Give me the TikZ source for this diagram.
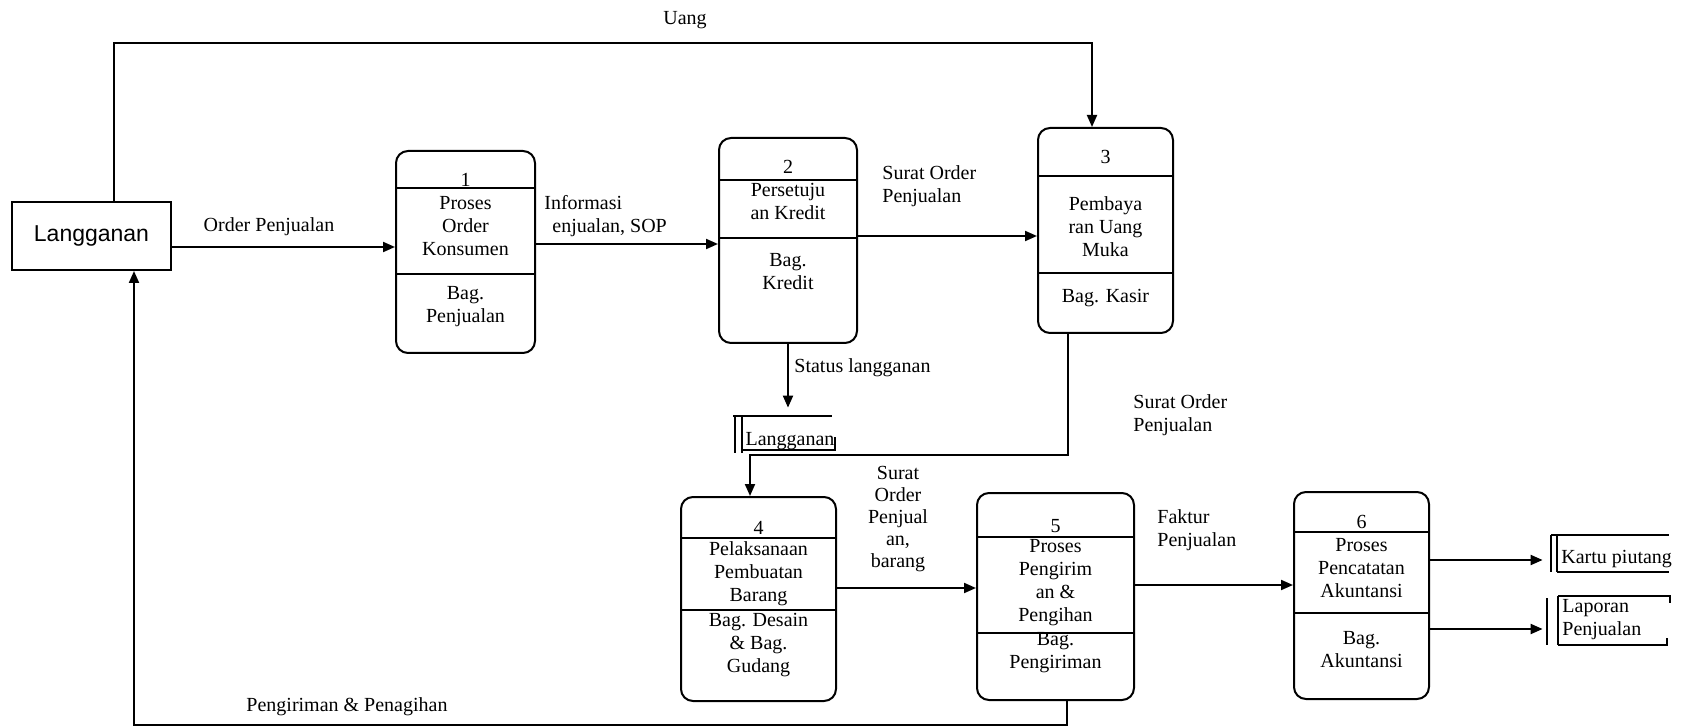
\documentclass[tikz,border=0pt]{standalone}
\usepackage{fontspec}
\setmainfont{Liberation Serif}
\newfontfamily\arialf{Liberation Sans}
\usetikzlibrary{arrows.meta,calc}
\begin{document}
\begin{tikzpicture}[x=0.5pt,y=-0.5pt,
  every node/.style={font=\fontsize{10}{11.5}\selectfont},
  line/.style={line width=1pt},
  arr/.style={line width=1pt,-{Triangle[length=6pt,width=5pt]}},
  pbox/.style={draw,line width=1pt,rounded corners=6pt,inner sep=0pt},
  txt/.style={align=center,inner sep=0pt},
  lbl/.style={align=left,inner sep=0pt,anchor=west},
  store/.style={inner sep=0pt},
]
\path[use as bounding box] (0,0) rectangle (1687,727);

% external entity
\node[draw,line width=1pt,minimum width=79.5pt,minimum height=34pt,inner sep=0pt,
      font=\arialf\fontsize{11.5}{13}\selectfont] (L) at (91.5,236) {Langganan};

% processes
\node[pbox,minimum width=69.5pt,minimum height=101pt] (P1) at (465.5,252) {};
\node[pbox,minimum width=69pt,minimum height=102.5pt] (P2) at (788,240.5) {};
\node[pbox,minimum width=67.5pt,minimum height=102.5pt] (P3) at (1105.5,230.5) {};
\node[pbox,minimum width=77.5pt,minimum height=102pt] (P4) at (758.5,599) {};
\node[pbox,minimum width=78.5pt,minimum height=103.5pt] (P5) at (1055.5,596.5) {};
\node[pbox,minimum width=67.5pt,minimum height=103.5pt] (P6) at (1361.5,595.5) {};

% dividers
\foreach \b/\ya/\yb in {P1/188/274, P2/180/238, P3/176/273, P4/538/610, P5/537/633, P6/532/613}{
  \draw[line] (\b.west |- 0,\ya) -- (\b.east |- 0,\ya);
  \draw[line] (\b.west |- 0,\yb) -- (\b.east |- 0,\yb);
}

% process texts
\node[txt] (n1) at (465.5,180) {1};
\node[txt] (t1) at (465.5,226) {Proses\\Order\\Konsumen};
\node[txt] (b1) at (465.5,307) {Bag.\\Penjualan};

\node[txt] (n2) at (788,167) {2};
\node[txt] (t2) at (788,201.5) {Persetuju\\an Kredit};
\node[txt] (b2) at (788,271.5) {Bag.\\Kredit};

\node[txt] (n3) at (1105.5,157) {3};
\node[txt] (t3) at (1105.5,227) {Pembaya\\ran Uang\\Muka};
\node[txt] (b3) at (1105.5,298) {Bag. Kasir};

\node[txt] (n4) at (758.5,528) {4};
\node[txt] (t4) at (758.5,574) {Pelaksanaan\\Pembuatan\\Barang};
\node[txt] (b4) at (758.5,645) {Bag. Desain\\\& Bag.\\Gudang};

\node[txt] (n5) at (1055.5,526) {5};
\node[txt] (t5) at (1055.5,583) {Proses\\Pengirim\\an \&\\Pengihan};
\node[txt] (b5) at (1055.5,653) {Bag.\\Pengiriman};

\node[txt] (n6) at (1361.5,522) {6};
\node[txt] (t6) at (1361.5,568) {Proses\\Pencatatan\\Akuntansi};
\node[txt] (b6) at (1361.5,650) {Bag.\\Akuntansi};

% data stores
\node[store,minimum width=50pt,minimum height=18.5pt] (S1) at (785,434.5) {};
\node[inner sep=0pt] (S1t) at (790,441) {Langganan};
\draw[line] (733,416) -- (832,416);
\draw[line] (735,416) -- (735,453);
\draw[line] (742,416) -- (742,453);
\draw[line] (742,450) -- (835,450) -- (835,437);

\node[store,minimum width=59pt,minimum height=18.5pt] (S2) at (1610,553.5) {};
\node[lbl] (S2t) at (1561,559) {Kartu piutang};
\draw[line] (1551,535) -- (1669,535);
\draw[line] (1557,572) -- (1669,572);
\draw[line] (1551,535) -- (1551,572);
\draw[line] (1557,535) -- (1557,572);

\node[store,minimum width=61.5pt,minimum height=24.5pt] (S3) at (1608.5,620.5) {};
\node[lbl] (S3t) at (1562,620) {Laporan\\Penjualan};
\draw[line] (1558,596) -- (1670,596) -- (1670,603);
\draw[line] (1558,645) -- (1667,645) -- (1667,638);
\draw[line] (1547,598) -- (1547,645);
\draw[line] (1558,596) -- (1558,645);

% flows
\coordinate (u1) at (114,43);
\coordinate (u2) at (1092,43);
\draw[arr] (u1 |- L.north) -- (u1) -- (u2) -- (u2 |- P3.north);
\node (uang) at (685,20) {Uang};

\draw[arr] (L.east |- 0,247) -- (P1.west |- 0,247);
\node (op) at (269,227) {Order Penjualan};

\draw[arr] (P1.east |- 0,244) -- (P2.west |- 0,244);
\node[lbl] (inf1) at (544,203) {Informasi};
\node[lbl] (inf2) at (552,228) {enjualan, SOP};

\draw[arr] (P2.east |- 0,236) -- (P3.west |- 0,236);
\node[lbl] (so1) at (882,186) {Surat Order\\Penjualan};

\draw[arr,shorten >=4pt] (P2.south) -- (P2.south |- S1.north);
\node[lbl] (st) at (794,368) {Status langganan};

\coordinate (c34) at (1068,455);
\coordinate (c43) at (750,455);
\draw[arr] (P3.south -| c34) -- (c34) -- (c43) -- (c43 |- P4.north);
\node[lbl] (so2) at (1133,415) {Surat Order\\Penjualan};

\draw[arr] (P4.east |- 0,588) -- (P5.west |- 0,588);
\node[txt,font=\fontsize{10}{11}\selectfont] (so3) at (898,519) {Surat\\Order\\Penjual\\an,\\barang};

\draw[arr] (P5.east |- 0,585) -- (P6.west |- 0,585);
\node[lbl] (fk) at (1157,530) {Faktur\\Penjualan};

\draw[arr,shorten >=4pt] (P6.east |- 0,560) -- (S2.west |- 0,560);
\draw[arr,shorten >=2pt] (P6.east |- 0,629) -- (S3.west |- 0,629);

\coordinate (c5) at (1067,725);
\coordinate (c6) at (134,725);
\draw[arr] (P5.south -| c5) -- (c5) -- (c6) -- (c6 |- L.south);
\node (pp) at (347,707) {Pengiriman \& Penagihan};
\end{tikzpicture}
\end{document}
